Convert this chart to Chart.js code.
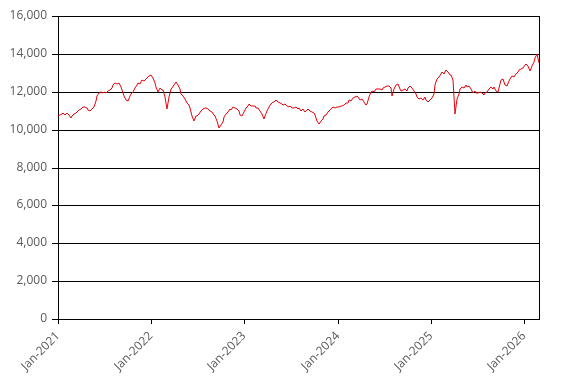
<!DOCTYPE html>
<html>
<head>
<meta charset="utf-8">
<script src="https://cdn.jsdelivr.net/npm/chart.js@4.4.1/dist/chart.umd.min.js"></script>
<style>
  html, body { margin: 0; padding: 0; background: #fff; }
  #wrap { width: 567px; height: 383px; }
</style>
</head>
<body>
<div id="wrap"><canvas id="chart" width="567" height="383"></canvas></div>
<script>
// weekly closes
const startDate = '2021-01-01';
const stepDays = 7;

const values2021 = [10700, 10750, 10820, 10900, 10780, 10870, 10750, 10620, 10700, 10800,
  10880, 10960, 11020, 11100, 11180, 11220, 11130, 11050, 11000, 11080,
  11200, 11500, 11750, 11950, 11980, 11950, 12000, 11960, 12020, 12080,
  12200, 12350, 12480, 12420, 12450, 12250, 12100, 11800, 11550, 11500,
  11750, 11900, 12000, 12200, 12380, 12480, 12430, 12600, 12550, 12660,
  12700, 12840];
const values2022 = [12910, 12730, 12480, 12250, 11980, 12200, 12100, 12070, 11720, 11090,
  11720, 12120, 12200, 12370, 12520, 12370, 12160, 11890, 11770, 11630,
  11410, 11300, 11130, 10740, 10430, 10700, 10700, 10830, 11000, 11090,
  11130, 11130, 11090, 11000, 10910, 10770, 10700, 10470, 10110, 10240,
  10420, 10650, 10830, 10910, 11090, 11060, 11180, 11160, 11090, 10990,
  10770, 10740];
const values2023 = [10950, 11130, 11270, 11340, 11270, 11230, 11270, 11160, 11130, 11000,
  10830, 10560, 10740, 11000, 11180, 11340, 11450, 11480, 11540, 11450,
  11410, 11340, 11300, 11340, 11270, 11220, 11270, 11160, 11130, 11220,
  11090, 11160, 11000, 11090, 10910, 11060, 11090, 10990, 10910, 10880,
  10770, 10470, 10290, 10450, 10560, 10700, 10770, 10910, 11020, 11130,
  11180, 11150];
const values2024 = [11200, 11220, 11270, 11230, 11300, 11410, 11410, 11540, 11520, 11660,
  11720, 11800, 11720, 11590, 11630, 11450, 11300, 11360, 11720, 11980,
  12020, 11980, 12160, 12120, 12160, 12070, 12200, 12270, 12280, 12300,
  12200, 11800, 12160, 12340, 12430, 12160, 12020, 12100, 12120, 12050,
  12200, 12280, 12200, 12040, 11880, 11720, 11630, 11660, 11590, 11700,
  11540, 11450];
const values2025 = [11560, 11660, 11890, 12370, 12660, 12770, 12960, 13050, 12960, 13140,
  13050, 12870, 12910, 12600, 10850, 11630, 11890, 12160, 12250, 12200,
  12340, 12250, 12300, 12120, 11950, 12020, 11950, 11930, 11980, 11950,
  11840, 11910, 11980, 12160, 12250, 12160, 12250, 12040, 11980, 12430,
  12640, 12660, 12370, 12300, 12590, 12690, 12840, 12780, 12940, 13050,
  13140, 13210];
const values2026 = [13230, 13400, 13480, 13370, 13090, 13370, 13580, 13760, 13980, 13500];

const tickYears = [2021, 2022, 2023, 2024, 2025, 2026];
const yMin = 0;
const yMax = 16000;
const yStep = 2000;

const allValues = [].concat(values2021, values2022, values2023, values2024, values2025, values2026);
const points = allValues.map((v, i) => ({ x: i * stepDays, y: v }));

const startMs = Date.parse(startDate + 'T00:00:00Z');
const tickDays = tickYears.map((yr) => Math.round((Date.UTC(yr, 0, 1) - startMs) / 86400000));

const axisFont = { family: 'Open Sans', size: 12 };
const axisColor = '#595959';

const frameRight = {
  id: 'frameRight',
  afterDraw(chart) {
    const { ctx, chartArea } = chart;
    const x = Math.round(chartArea.right) + 0.5;
    ctx.save();
    ctx.strokeStyle = '#000';
    ctx.lineWidth = 1;
    ctx.beginPath();
    ctx.moveTo(x, Math.round(chartArea.top));
    ctx.lineTo(x, Math.round(chartArea.bottom) + 1);
    ctx.stroke();
    ctx.restore();
  }
};

new Chart(document.getElementById('chart').getContext('2d'), {
  type: 'line',
  data: {
    datasets: [{
      data: points,
      borderColor: '#E8000B',
      borderWidth: 1,
      pointRadius: 0,
      tension: 0,
      fill: false,
    }]
  },
  options: {
    responsive: false,
    animation: false,
    devicePixelRatio: 1,
    layout: { padding: { top: 16, right: 28, left: 0, bottom: 0 } },
    plugins: {
      legend: { display: false },
      tooltip: { enabled: false },
    },
    scales: {
      x: {
        type: 'linear',
        min: 0,
        max: points[points.length - 1].x,
        alignToPixels: true,
        afterBuildTicks: (axis) => {
          axis.ticks = tickDays.map((d) => ({ value: d }));
        },
        afterFit: (scale) => { scale.height = 64; },
        ticks: {
          autoSkip: false,
          minRotation: 45,
          maxRotation: 45,
          padding: 5,
          color: axisColor,
          font: axisFont,
          callback: (v, i) => 'Jan-' + tickYears[i],
        },
        grid: {
          drawOnChartArea: false,
          drawTicks: true,
          tickLength: 5,
          color: '#000',
        },
        border: { display: true, color: '#000' },
      },
      y: {
        min: yMin,
        max: yMax,
        alignToPixels: true,
        afterFit: (scale) => { scale.width = 58; },
        ticks: {
          stepSize: yStep,
          padding: 5,
          color: axisColor,
          font: axisFont,
          callback: (v) => v.toLocaleString('en-US'),
        },
        grid: {
          color: '#000',
          tickLength: 6,
        },
        border: { display: true, color: '#000' },
      },
    },
  },
  plugins: [frameRight],
});
</script>
</body>
</html>
